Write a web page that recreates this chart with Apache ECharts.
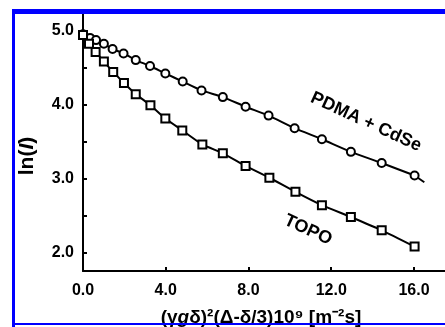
<!DOCTYPE html>
<html>
<head>
<meta charset="utf-8">
<script src="https://cdn.jsdelivr.net/npm/echarts@6/dist/echarts.min.js"></script>
<style>
  html, body { margin: 0; padding: 0; background: #fff; }
  #chart { width: 445px; height: 327px; }
</style>
</head>
<body>
<div id="chart"></div>
<script>
// PDMA + CdSe (circles)
const pdmaX = [0, 0.34, 0.63, 1.01, 1.43, 1.96, 2.55, 3.24, 3.98, 4.82, 5.73, 6.76, 7.86, 8.97, 10.23, 11.55, 12.95, 14.44, 16.03];
const pdmaY = [4.95, 4.90, 4.87, 4.82, 4.75, 4.69, 4.60, 4.52, 4.42, 4.31, 4.19, 4.10, 3.97, 3.85, 3.68, 3.53, 3.36, 3.21, 3.04];
// fit line tail past the last circle
const pdmaTailX = [16.03, 16.5];
const pdmaTailY = [3.04, 2.95];
// TOPO (squares)
const topoX = [0, 0.29, 0.61, 1.01, 1.46, 1.98, 2.55, 3.26, 3.98, 4.80, 5.77, 6.76, 7.86, 9.01, 10.27, 11.55, 12.95, 14.44, 16.03];
const topoY = [4.94, 4.82, 4.71, 4.58, 4.44, 4.29, 4.14, 3.99, 3.81, 3.65, 3.46, 3.34, 3.17, 3.01, 2.82, 2.64, 2.48, 2.30, 2.08];

const xTicks = [0, 4, 8, 12, 16];
const yTicks = [2, 2.5, 3, 3.5, 4, 4.5, 5];
const yLabels = [2, 3, 4, 5];

const pairs = (xs, ys) => xs.map((x, i) => [x, ys[i]]);

const chart = echarts.init(document.getElementById('chart'));
const font = '"Liberation Sans", Arial, sans-serif';
const blue = '#0000ff';

chart.setOption({
  animation: false,
  grid: { left: 83, top: 12, width: 363, height: 259 },
  xAxis: {
    type: 'value', min: 0, max: 17.5,
    axisLine: { lineStyle: { color: '#000', width: 2 } },
    axisTick: { inside: true, length: 4, customValues: xTicks, lineStyle: { color: '#000', width: 2 } },
    splitLine: { show: false },
    axisLabel: {
      margin: 12, color: '#000', fontFamily: font, fontWeight: 'bold', fontSize: 16,
      customValues: xTicks, formatter: v => v.toFixed(1)
    }
  },
  yAxis: {
    type: 'value', min: 1.75, max: 5.25,
    axisLine: { lineStyle: { color: '#000', width: 2 } },
    axisTick: { inside: true, length: 4, customValues: yTicks, lineStyle: { color: '#000', width: 2 } },
    splitLine: { show: false },
    axisLabel: {
      margin: 9, color: '#000', fontFamily: font, fontWeight: 'bold', fontSize: 16,
      customValues: yLabels, formatter: v => v.toFixed(1)
    }
  },
  graphic: [
    { type: 'rect', shape: { x: 12, y: 9, width: 440, height: 5 }, style: { fill: blue }, z: 100 },
    { type: 'rect', shape: { x: 12, y: 9, width: 3, height: 318 }, style: { fill: blue }, z: 100 },
    { type: 'rect', shape: { x: 12, y: 323, width: 440, height: 2 }, style: { fill: blue }, z: 100 },
    {
      type: 'text', x: 27, y: 156, rotation: Math.PI / 2, z: 50,
      style: {
        text: 'ln({i|I})', fill: '#000', font: 'bold 21px ' + font, align: 'center', verticalAlign: 'middle',
        rich: { i: { fontStyle: 'italic', fontWeight: 'bold', fontSize: 21, fontFamily: font } }
      }
    },
    {
      type: 'text', x: 261, y: 318, z: 50,
      style: {
        text: '(γ{i|g}δ)²(Δ-δ/3)10⁹ [m⁻²s]', fill: '#000', font: 'bold 19px ' + font,
        align: 'center', verticalAlign: 'middle',
        rich: { i: { fontStyle: 'italic', fontWeight: 'bold', fontSize: 19, fontFamily: font } }
      }
    },
    {
      type: 'text', x: 366, y: 122, rotation: -0.43, z: 50,
      style: { text: 'PDMA + CdSe', fill: '#000', font: 'bold 18px ' + font, align: 'center', verticalAlign: 'middle' }
    },
    {
      type: 'text', x: 308, y: 230, rotation: -0.43, z: 50,
      style: { text: 'TOPO', fill: '#000', font: 'bold 18px ' + font, align: 'center', verticalAlign: 'middle' }
    }
  ],
  series: [
    {
      type: 'line', data: pairs(pdmaX, pdmaY), smooth: 0.2,
      symbol: 'circle', symbolSize: 8,
      lineStyle: { color: '#000', width: 2 },
      itemStyle: { color: '#fff', borderColor: '#000', borderWidth: 2 }
    },
    {
      type: 'line', data: pairs(pdmaTailX, pdmaTailY), showSymbol: false,
      lineStyle: { color: '#000', width: 2 }
    },
    {
      type: 'line', data: pairs(topoX, topoY), smooth: 0.2,
      symbol: 'rect', symbolSize: 8,
      lineStyle: { color: '#000', width: 2 },
      itemStyle: { color: '#fff', borderColor: '#000', borderWidth: 2 }
    }
  ]
});
</script>
</body>
</html>
